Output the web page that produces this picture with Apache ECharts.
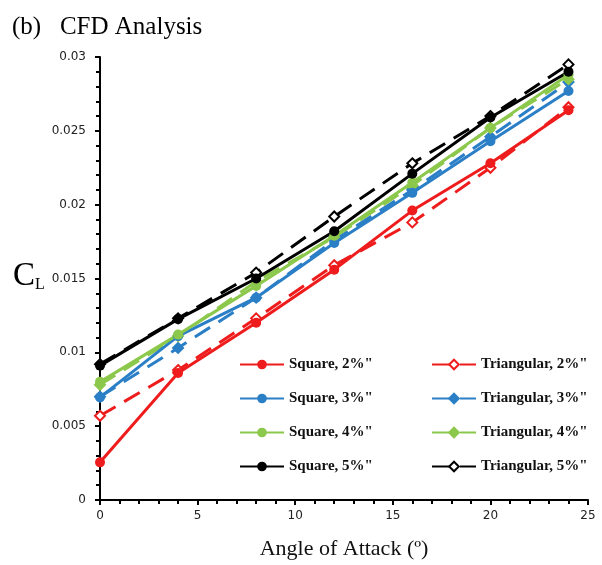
<!DOCTYPE html>
<html><head><meta charset="utf-8">
<script src="https://cdn.jsdelivr.net/npm/echarts@6/dist/echarts.min.js"></script>
<style>html,body{margin:0;padding:0;background:#fff}#c{width:602px;height:565px}</style>
</head><body><div id="c"></div>
<script>
const angles = [0, 4, 8, 12, 16, 20, 24];
const square2 = [0.00255, 0.0086, 0.0120, 0.0156, 0.0196, 0.0228, 0.0264];
const square3 = [0.00695, 0.0111, 0.0137, 0.0174, 0.0208, 0.0243, 0.0277];
const square4 = [0.0080, 0.0112, 0.0145, 0.0179, 0.0215, 0.0252, 0.0288];
const square5 = [0.0091, 0.01225, 0.0150, 0.0182, 0.0221, 0.0259, 0.0290];
const tri2 = [0.0057, 0.0088, 0.0123, 0.0159, 0.0188, 0.0225, 0.0266];
const tri3 = [0.0070, 0.0103, 0.0137, 0.0176, 0.0210, 0.0246, 0.0283];
const tri4 = [0.0078, 0.0111, 0.0148, 0.0178, 0.0213, 0.0252, 0.0285];
const tri5 = [0.0092, 0.0123, 0.0154, 0.0192, 0.0228, 0.0260, 0.0295];
const squareNames = ['Square, 2%"', 'Square, 3%"', 'Square, 4%"', 'Square, 5%"'];
const triNames = ['Triangular, 2%"', 'Triangular, 3%"', 'Triangular, 4%"', 'Triangular, 5%"'];
const colors = ['#ee1c1c', '#2a7fc6', '#8cc84b', '#000000'];
const yTicks = [0, 0.005, 0.01, 0.015, 0.02, 0.025, 0.03];
const xTicks = [0, 5, 10, 15, 20, 25];

const sqData = [square2, square3, square4, square5];
const trData = [tri2, tri3, tri4, tri5];
const pair = arr => angles.map((a, i) => [a, arr[i]]);

const series = [];
sqData.forEach((d, i) => series.push({
  name: squareNames[i], type: 'line', data: pair(d), symbol: 'circle', symbolSize: 10,
  lineStyle: {color: colors[i], width: 3}, itemStyle: {color: colors[i]}, z: 3
}));
trData.forEach((d, i) => {
  const open = (i === 0 || i === 3);
  series.push({
    name: triNames[i], type: 'line', data: pair(d), symbol: 'diamond', symbolSize: 10,
    lineStyle: {color: colors[i], width: 3, type: [18, 10]},
    itemStyle: {color: open ? '#fff' : colors[i], borderColor: colors[i], borderWidth: 2}, z: 2
  });
});

const legendText = {fontFamily: 'Liberation Serif', fontWeight: 'bold', fontSize: 15, color: '#111'};
const chart = echarts.init(document.getElementById('c'));
chart.setOption({
  animation: false,
  backgroundColor: '#fff',
  grid: {left: 100, right: 14, top: 57, bottom: 62},
  title: {text: '(b)   CFD Analysis', left: 7, top: 10,
    textStyle: {fontFamily: 'Liberation Serif', fontWeight: 'normal', fontSize: 25, color: '#000'}},
  legend: [
    {data: squareNames, orient: 'vertical', left: 234, top: 352, itemGap: 19, itemWidth: 44, itemHeight: 12,
     textStyle: legendText},
    {data: triNames, orient: 'vertical', left: 426, top: 352, itemGap: 19, itemWidth: 44, itemHeight: 12,
     textStyle: legendText}
  ],
  xAxis: {type: 'value', min: 0, max: 25, interval: 5,
    axisLine: {lineStyle: {color: '#000', width: 2}},
    axisTick: {show: true, length: 5, lineStyle: {color: '#000', width: 2}},
    minorTick: {show: true, splitNumber: 5, length: 4, lineStyle: {color: '#000', width: 2}},
    splitLine: {show: false},
    axisLabel: {fontFamily: 'DejaVu Sans', fontSize: 12, color: '#222', margin: 10,
      formatter: v => xTicks.includes(v) ? String(v) : ''},
    name: 'Angle of Attack (º)', nameLocation: 'middle', nameGap: 38,
    nameTextStyle: {fontFamily: 'Liberation Serif', fontSize: 22, color: '#111'}
  },
  yAxis: {type: 'value', min: 0, max: 0.03, interval: 0.005,
    axisLine: {show: true, lineStyle: {color: '#000', width: 2}},
    axisTick: {show: true, length: 5, lineStyle: {color: '#000', width: 2}},
    minorTick: {show: true, splitNumber: 5, length: 4, lineStyle: {color: '#000', width: 2}},
    splitLine: {show: false},
    axisLabel: {fontFamily: 'DejaVu Sans', fontSize: 12, color: '#222', margin: 14,
      formatter: v => { const t = yTicks.find(y => Math.abs(y - v) < 1e-9); return t === undefined ? '' : String(t); }}
  },
  graphic: [{type: 'text', left: 13, top: 260,
    style: {text: '{c|C}{l|L}', rich: {
      c: {fontFamily: 'Liberation Serif', fontSize: 33, fill: '#000'},
      l: {fontFamily: 'Liberation Serif', fontSize: 16, fill: '#000', padding: [16, 0, 0, 0]}
    }}}],
  series: series
});
</script></body></html>
